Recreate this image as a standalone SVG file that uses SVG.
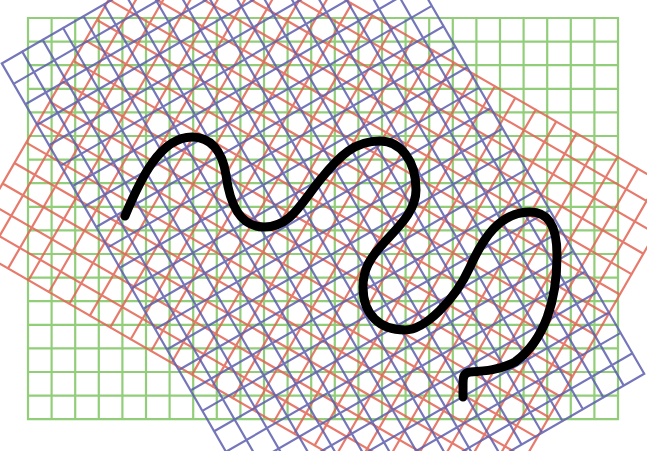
<svg xmlns="http://www.w3.org/2000/svg" xmlns:xlink="http://www.w3.org/1999/xlink" width="647" height="451" viewBox="0 0 647 451">
<style>
.g{fill:none;stroke-width:2.2;stroke-linecap:square}
.green{stroke:#86c96a;opacity:0.9}
.red{stroke:#e26554;opacity:0.85}
.blue{stroke:#5d5fae;opacity:0.85}
.curve{fill:none;stroke:#000;stroke-width:9;stroke-linecap:round;stroke-linejoin:round}
</style>
<defs>
<path id="grid" d="M28,18V419.2M51.6,18V419.2M75.2,18V419.2M98.8,18V419.2M122.4,18V419.2M146,18V419.2M169.6,18V419.2M193.2,18V419.2M216.8,18V419.2M240.4,18V419.2M264,18V419.2M287.6,18V419.2M311.2,18V419.2M334.8,18V419.2M358.4,18V419.2M382,18V419.2M405.6,18V419.2M429.2,18V419.2M452.8,18V419.2M476.4,18V419.2M500,18V419.2M523.6,18V419.2M547.2,18V419.2M570.8,18V419.2M594.4,18V419.2M618,18V419.2M28,18H618M28,41.6H618M28,65.2H618M28,88.8H618M28,112.4H618M28,136H618M28,159.6H618M28,183.2H618M28,206.8H618M28,230.4H618M28,254H618M28,277.6H618M28,301.2H618M28,324.8H618M28,348.4H618M28,372H618M28,395.6H618M28,419.2H618"/>
</defs>
<rect width="647" height="451" fill="#ffffff"/>
<g id="grid-green" class="g green"><use xlink:href="#grid"/></g>
<g id="grid-red" class="g red"><use xlink:href="#grid" transform="rotate(30 323 218.6)"/></g>
<g id="grid-blue" class="g blue"><use xlink:href="#grid" transform="rotate(60 323 218.6)"/></g>
<g id="curve">
<path class="curve" d="M125,216C140,180 160,137 192,137C210,137 222,150 226,175C230,205 240,227 264,227C290,227 300,205 320,180C340,155 355,141 380,141C400,141 416,160 416,190C416,212 397,228 382,245C370,258 363,270 363,287C363,315 380,330 405,330C425,330 455,300 470,267C483,238 500,212 530,212C548,212 557,225 557,255C557,300 545,340 515,362C500,370 485,371 470,372C463,373 463,378 463,385L463,397"/>
</g>
</svg>
